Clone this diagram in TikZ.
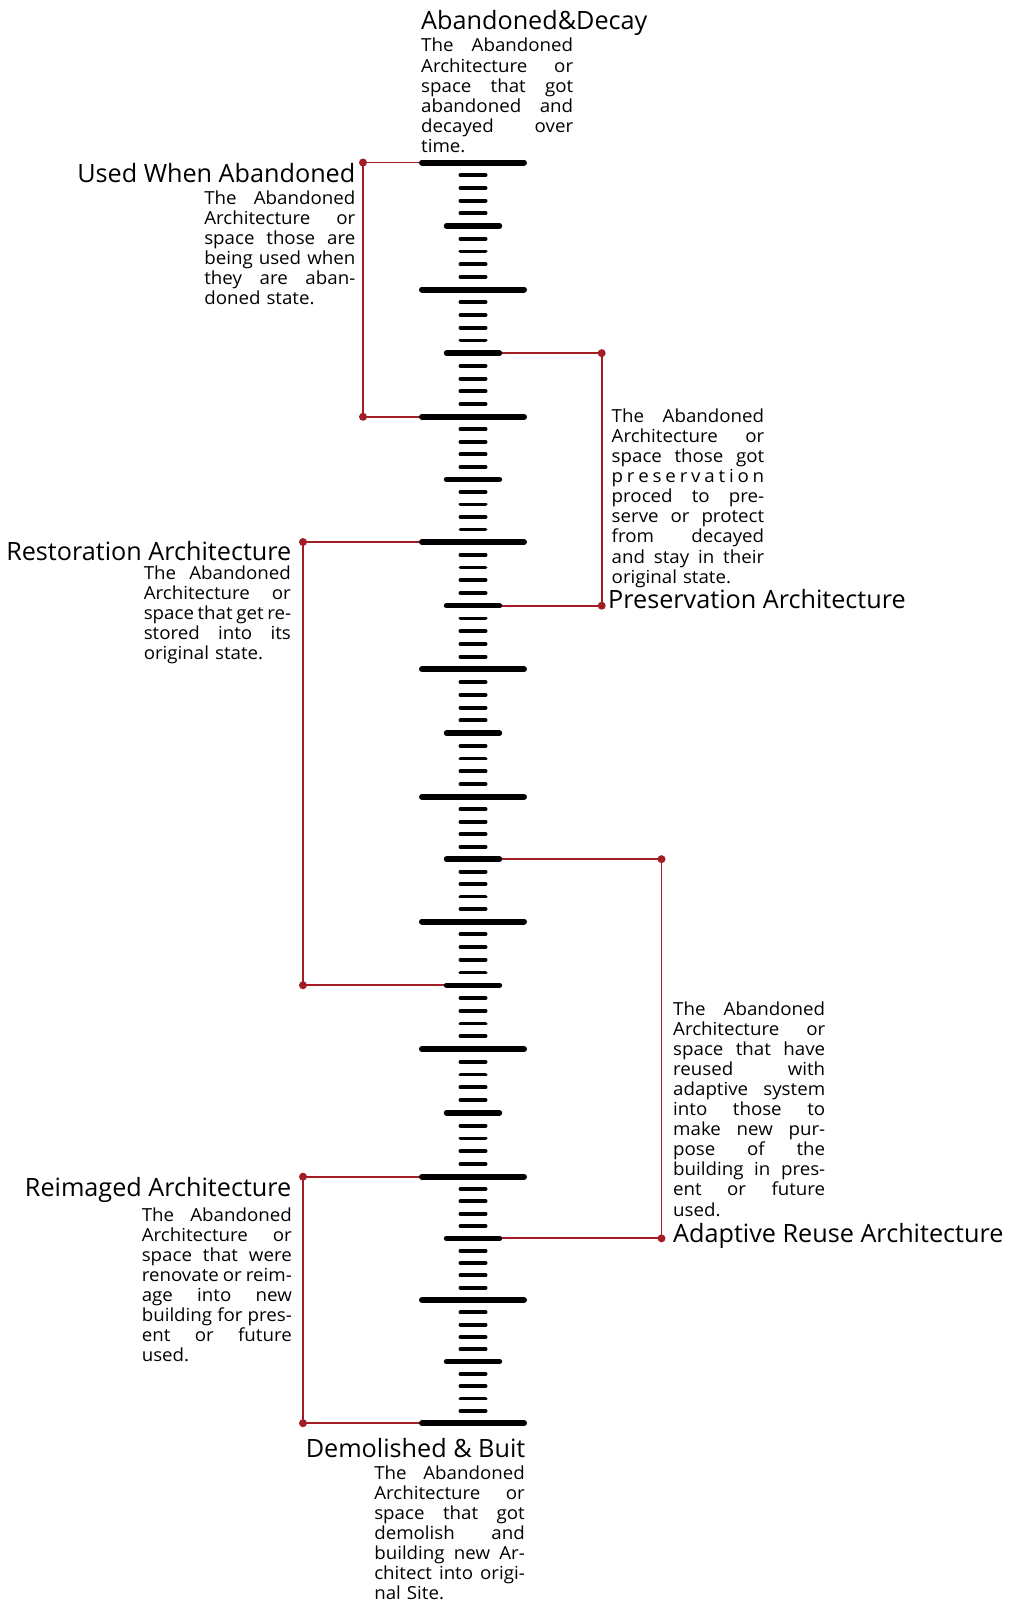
\documentclass[tikz,border=0pt]{standalone}
\usepackage{fontspec}
\setmainfont{Open Sans}
\newfontfamily\bodyfont{Open Sans}[FakeStretch=1.04]
\definecolor{linkred}{HTML}{A31D24}
\newlength\colw
% one justified line of a description column
\newcommand\fillline[1]{\leavevmode\hbox to \colw{\spaceskip=0.3em plus 3em minus 0.1em #1}\\}
\tikzset{
  redline/.style={draw=linkred, line width=1.8pt},
  reddot/.style={fill=linkred},
  tickbar/.style={line cap=round, draw=black},
  headline/.style={inner sep=0pt, font=\fontsize{25.2}{27}\selectfont},
  desc/.style={inner sep=0pt, align=left, text width=#1,
    execute at begin node={\setlength{\colw}{#1}},
    font=\bodyfont\fontsize{18}{20.1}\selectfont},
}
\begin{document}
\begin{tikzpicture}[x=1pt,y=-1pt]
\fill[white] (0,0) rectangle (1009,1603);
\useasboundingbox (0,0) rectangle (1009,1603);

% tick positions along the scale: long ticks at the decades, medium at the fives
\foreach \ya/\yb [count=\p from 0] in {162.5/289.5, 289.5/416.8, 416.8/542, 542/669.4, 669.4/796.8, 796.8/921.5, 921.5/1049, 1049/1176.7, 1176.7/1300, 1300/1423.2} {
  \foreach \k in {0,...,9} {
    \pgfmathsetmacro\yy{\ya+(\yb-\ya)*\k/10}
    \pgfmathtruncatemacro\idx{\p*10+\k}
    \ifnum\k=0 \def\hw{51}\else\ifnum\k=5 \def\hw{26.5}\else\def\hw{12.6}\fi\fi
    \coordinate (tick\idx L) at (473-\hw,\yy);
    \coordinate (tick\idx R) at (473+\hw,\yy);
  }
}
\coordinate (tick100L) at (422,1423.2);
\coordinate (tick100R) at (524,1423.2);

% columns of the bracket connectors
\coordinate (xa) at (363,0);
\coordinate (xb) at (601.7,0);
\coordinate (xc) at (303,0);
\coordinate (xd) at (661.5,0);

\coordinate (ua) at (tick0L -| xa);  \coordinate (ub) at (tick20L -| xa);
\coordinate (pa) at (tick15R -| xb); \coordinate (pb) at (tick35R -| xb);
\coordinate (ra) at (tick30L -| xc); \coordinate (rb) at (tick65L -| xc);
\coordinate (aa) at (tick55R -| xd); \coordinate (ab) at (tick85R -| xd);
\coordinate (ia) at (tick80L -| xc); \coordinate (ib) at (tick100L -| xc);

\draw[redline] (tick0L) -- (ua) -- (ub) -- (tick20L);
\draw[redline] (tick15R) -- (pa) -- (pb) -- (tick35R);
\draw[redline] (tick30L) -- (ra) -- (rb) -- (tick65L);
\draw[redline] (tick55R) -- (aa) -- (ab) -- (tick85R);
\draw[redline] (tick80L) -- (ia) -- (ib) -- (tick100L);
\foreach \d in {ua,ub,pa,pb,ra,rb,aa,ab,ia,ib}
  \fill[reddot] (\d) circle (4pt);

% the scale itself
\foreach \i in {0,...,100} {
  \pgfmathtruncatemacro\m{mod(\i,10)}
  \ifnum\m=0 \def\lw{6}\else\ifnum\m=5 \def\lw{5.4}\else\def\lw{3.8}\fi\fi
  \draw[tickbar, line width=\lw pt] (tick\i L) -- (tick\i R);
}

% Abandoned & Decay
\node[headline, anchor=base west] (decayT) at (421,29.5) {Abandoned\&Decay};
\node[desc=152pt, anchor=base west] (decayB) at (421,52) {%
\fillline{The Abandoned}\fillline{Architecture or}\fillline{space that got}%
\fillline{abandoned and}\fillline{decayed over}time.};

% Used When Abandoned
\node[headline, anchor=base east] (usedT) at (355.5,182) {Used When Abandoned};
\node[desc=151pt, anchor=base east] (usedB) at (355.5,204) {%
\fillline{The Abandoned}\fillline{Architecture or}\fillline{space those are}%
\fillline{being used when}\fillline{they are aban-}doned state.};

% Preservation Architecture
\node[desc=152.5pt, anchor=base west] (presB) at (611.5,422.3) {%
\fillline{The Abandoned}\fillline{Architecture or}\fillline{space those got}%
\fillline{p r e s e r v a t i o n}\fillline{proced to pre-}\fillline{serve or protect}%
\fillline{from decayed}\fillline{and stay in their}original state.};
\node[headline, anchor=base west] (presT) at (608,608.5) {Preservation Architecture};

% Restoration Architecture
\node[headline, anchor=base east] (restT) at (291.5,560) {Restoration Architecture};
\node[desc=147pt, anchor=base east] (restB) at (291,579.5) {%
\fillline{The Abandoned}\fillline{Architecture or}\fillline{space that get re-}%
\fillline{stored into its}original state.};

% Adaptive Reuse Architecture
\node[desc=152pt, anchor=base west] (adapB) at (673,1015) {%
\fillline{The Abandoned}\fillline{Architecture or}\fillline{space that have}%
\fillline{reused with}\fillline{adaptive system}\fillline{into those to}%
\fillline{make new pur-}\fillline{pose of the}\fillline{building in pres-}%
\fillline{ent or future}used.};
\node[headline, anchor=base west] (adapT) at (673,1242.5) {Adaptive Reuse Architecture};

% Reimaged Architecture
\node[headline, anchor=base east] (reimT) at (291.5,1196) {Reimaged Architecture};
\node[desc=150pt, anchor=base east] (reimB) at (292,1221) {%
\fillline{The Abandoned}\fillline{Architecture or}\fillline{space that were}%
\fillline{renovate or reim-}\fillline{age into new}\fillline{building for pres-}%
\fillline{ent or future}used.};

% Demolished & Built
\node[headline, anchor=base east] (demoT) at (525.5,1457) {Demolished \& Buit};
\node[desc=150.5pt, anchor=base east] (demoB) at (525,1479) {%
\fillline{The Abandoned}\fillline{Architecture or}\fillline{space that got}%
\fillline{demolish and}\fillline{building new Ar-}\fillline{chitect into origi-}%
nal Site.};
\end{tikzpicture}
\end{document}
